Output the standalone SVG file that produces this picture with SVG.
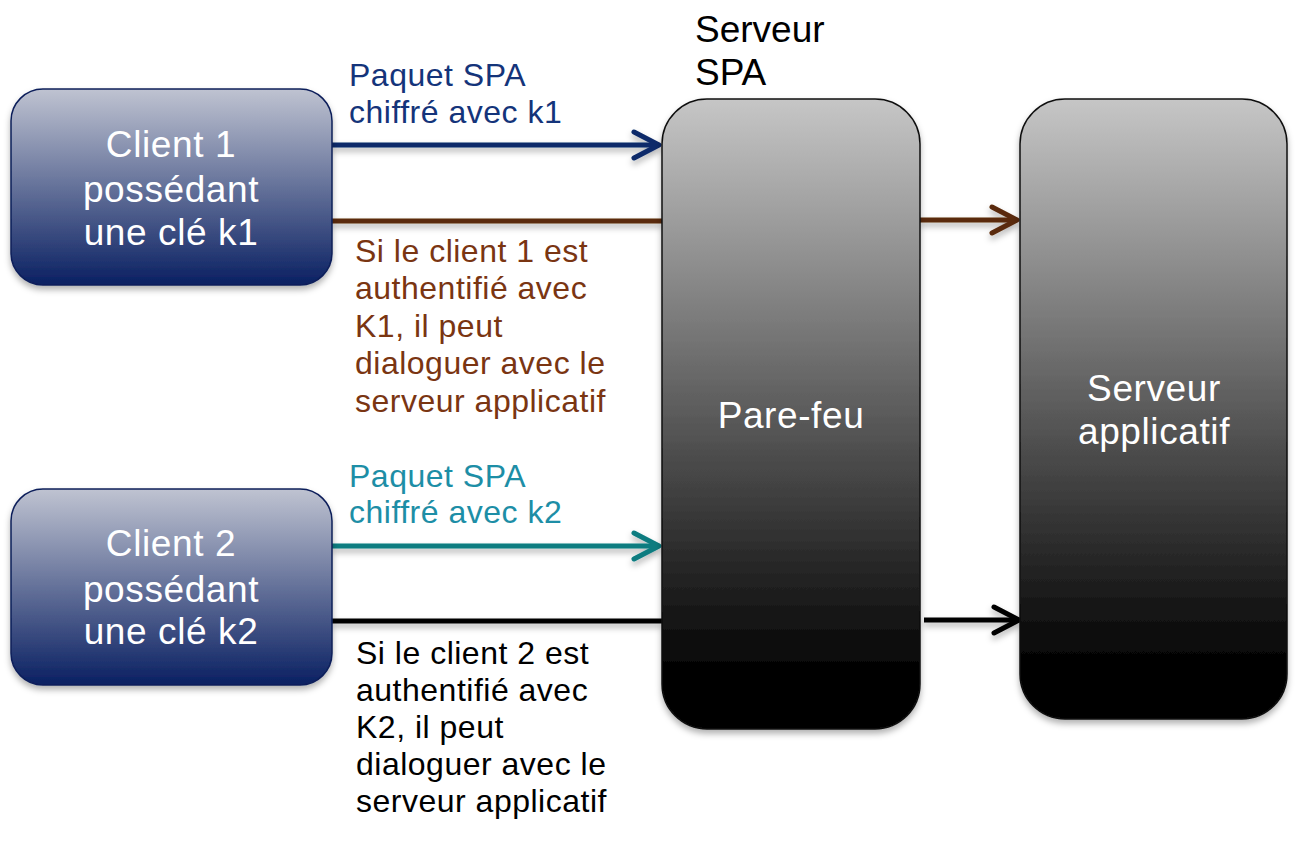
<svg xmlns="http://www.w3.org/2000/svg" width="1298" height="862" viewBox="0 0 1298 862">
  <style>
    text { font-family: "Liberation Sans", Arial, sans-serif; }
    .node-label { fill: #ffffff; font-size: 37px; text-anchor: middle; letter-spacing: 0.6px; }
    .title { fill: #000000; font-size: 37px; }
    .lbl { font-size: 32px; letter-spacing: 0.5px; }
    .conn { fill: none; stroke-width: 5; stroke-linecap: butt; }
    .client { fill: url(#gClient); stroke: #0b1f5a; stroke-width: 1.5; }
    .server { fill: url(#gServer); stroke: #111111; stroke-width: 1.5; }
  </style>
  <defs>
    <linearGradient id="gClient" x1="0" y1="0" x2="0" y2="1">
      <stop offset="0" stop-color="#bfc3d1"/>
      <stop offset="1" stop-color="#0a2062"/>
    </linearGradient>
    <linearGradient id="gServer" x1="0" y1="0" x2="0" y2="1">
      <stop offset="0" stop-color="#c6c6c6"/>
      <stop offset="0.9" stop-color="#050505"/>
      <stop offset="1" stop-color="#000000"/>
    </linearGradient>
    <filter id="shadow" x="-10%" y="-10%" width="120%" height="130%">
      <feDropShadow dx="0" dy="4" stdDeviation="3" flood-color="#000" flood-opacity="0.3"/>
    </filter>
    <marker id="mNavy" markerUnits="userSpaceOnUse" markerWidth="32" markerHeight="32" viewBox="0 0 32 32" refX="28" refY="16" orient="auto" overflow="visible">
      <path d="M3,3 L28,16 L3,29" fill="none" stroke="#0c2a6a" stroke-width="5" stroke-linecap="round" stroke-linejoin="round"/>
    </marker>
    <marker id="mBrown" markerUnits="userSpaceOnUse" markerWidth="32" markerHeight="32" viewBox="0 0 32 32" refX="28" refY="16" orient="auto" overflow="visible">
      <path d="M3,3 L28,16 L3,29" fill="none" stroke="#5a2a0c" stroke-width="5" stroke-linecap="round" stroke-linejoin="round"/>
    </marker>
    <marker id="mTeal" markerUnits="userSpaceOnUse" markerWidth="32" markerHeight="32" viewBox="0 0 32 32" refX="28" refY="16" orient="auto" overflow="visible">
      <path d="M3,3 L28,16 L3,29" fill="none" stroke="#0a7c80" stroke-width="5" stroke-linecap="round" stroke-linejoin="round"/>
    </marker>
    <marker id="mBlack" markerUnits="userSpaceOnUse" markerWidth="32" markerHeight="32" viewBox="0 0 32 32" refX="28" refY="16" orient="auto" overflow="visible">
      <path d="M3,3 L28,16 L3,29" fill="none" stroke="#000000" stroke-width="5" stroke-linecap="round" stroke-linejoin="round"/>
    </marker>
  </defs>

  <rect width="1298" height="862" fill="#ffffff"/>

  <g id="connectors" filter="url(#shadow)">
    <line class="conn" x1="332" y1="145" x2="659" y2="145" stroke="#0c2a6a" marker-end="url(#mNavy)"/>
    <line class="conn" x1="332" y1="221" x2="662" y2="221" stroke="#5a2a0c"/>
    <line class="conn" x1="920" y1="220" x2="1017" y2="220" stroke="#5a2a0c" marker-end="url(#mBrown)"/>
    <line class="conn" x1="332" y1="546" x2="659" y2="546" stroke="#0a7c80" marker-end="url(#mTeal)"/>
    <line class="conn" x1="332" y1="621" x2="662" y2="621" stroke="#000000"/>
    <line class="conn" x1="924" y1="620" x2="1019" y2="620" stroke="#000000" marker-end="url(#mBlack)"/>
  </g>

  <g id="client1">
    <rect class="client" x="11" y="89" width="321" height="196" rx="32" ry="32" filter="url(#shadow)"/>
    <text class="node-label" x="171" y="157">Client 1</text>
    <text class="node-label" x="171" y="202">possédant</text>
    <text class="node-label" x="171" y="245">une clé k1</text>
  </g>

  <g id="client2">
    <rect class="client" x="11" y="489" width="321" height="196" rx="32" ry="32" filter="url(#shadow)"/>
    <text class="node-label" x="171" y="556">Client 2</text>
    <text class="node-label" x="171" y="602">possédant</text>
    <text class="node-label" x="171" y="644">une clé k2</text>
  </g>

  <g id="pare-feu">
    <text class="title" x="695" y="42">Serveur</text>
    <text class="title" x="695" y="85">SPA</text>
    <rect class="server" x="662" y="99" width="258" height="630" rx="45" ry="45" filter="url(#shadow)"/>
    <text class="node-label" x="791" y="428">Pare-feu</text>
  </g>

  <g id="serveur-applicatif">
    <rect class="server" x="1020" y="99" width="267" height="620" rx="45" ry="45" filter="url(#shadow)"/>
    <text class="node-label" x="1154" y="401">Serveur</text>
    <text class="node-label" x="1154" y="444">applicatif</text>
  </g>

  <g id="labels">
    <text class="lbl" fill="#14347a" x="349" y="86">Paquet SPA</text>
    <text class="lbl" fill="#14347a" x="349" y="123">chiffré avec k1</text>

    <text class="lbl" fill="#7a3512" x="355" y="262">Si le client 1 est</text>
    <text class="lbl" fill="#7a3512" x="355" y="299">authentifié avec</text>
    <text class="lbl" fill="#7a3512" x="355" y="337">K1, il peut</text>
    <text class="lbl" fill="#7a3512" x="355" y="374">dialoguer avec le</text>
    <text class="lbl" fill="#7a3512" x="355" y="412">serveur applicatif</text>

    <text class="lbl" fill="#1d8ea6" x="349" y="487">Paquet SPA</text>
    <text class="lbl" fill="#1d8ea6" x="349" y="523">chiffré avec k2</text>

    <text class="lbl" fill="#000000" x="356" y="664">Si le client 2 est</text>
    <text class="lbl" fill="#000000" x="356" y="701">authentifié avec</text>
    <text class="lbl" fill="#000000" x="356" y="738">K2, il peut</text>
    <text class="lbl" fill="#000000" x="356" y="775">dialoguer avec le</text>
    <text class="lbl" fill="#000000" x="356" y="812">serveur applicatif</text>
  </g>
</svg>
